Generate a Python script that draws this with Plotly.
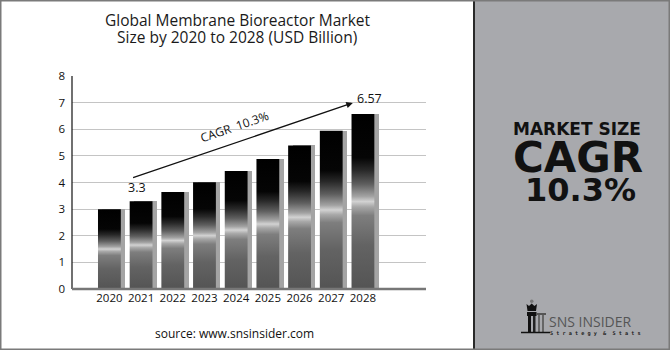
import plotly.graph_objects as go

years = ["2020", "2021", "2022", "2023", "2024", "2025", "2026", "2027", "2028"]
values = [3.0, 3.3, 3.64, 4.01, 4.43, 4.88, 5.39, 5.94, 6.57]
y_ticks = [0, 1, 2, 3, 4, 5, 6, 7, 8]
title_lines = ["Global Membrane Bioreactor Market", "Size by 2020 to 2028 (USD Billion)"]
cagr_text = "CAGR  10.3%"
source_text = "source: www.snsinsider.com"

W, H = 670, 350
def px(x):
    return x / W
def py(y):
    return 1 - y / H

BAR_W = 0.72
SHADOW_OFF = 0.14
grad = [
    [0.0, "#545454"], [0.25, "#636363"], [0.42, "#7e7e7e"], [0.47, "#a8a8a8"],
    [0.50, "#d2d2d2"], [0.53, "#a2a2a2"], [0.60, "#5e5e5e"], [0.68, "#282828"],
    [0.75, "#050505"], [1.0, "#000000"],
]

fig = go.Figure()
xs = list(range(len(years)))

# shadow bars
fig.add_trace(go.Bar(
    x=[i + SHADOW_OFF for i in xs], y=values, width=BAR_W,
    marker=dict(color="#a4a4a4", line=dict(width=0)),
    hoverinfo="skip", showlegend=False,
))

# gradient bars
for i, v in zip(xs, values):
    fig.add_trace(go.Scatter(
        x=[i - BAR_W / 2, i + BAR_W / 2, i + BAR_W / 2, i - BAR_W / 2, i - BAR_W / 2],
        y=[0, 0, v, v, 0],
        mode="lines", line=dict(width=0), fill="toself",
        fillgradient=dict(type="vertical", colorscale=grad, start=0, stop=v),
        hoverinfo="skip", showlegend=False,
    ))

ann = []
# title
for line, yy in zip(title_lines, [20, 37]):
    ann.append(dict(text=line, x=px(237), y=py(yy), xref="paper", yref="paper",
                    showarrow=False, xanchor="center", yanchor="middle",
                    font=dict(family="Open Sans", size=15.5, color="#1a1a1a")))
# data labels
ann.append(dict(text=f"{values[1]}", x=1, y=values[1], xref="x", yref="y", showarrow=False,
                xshift=-4, yshift=14, font=dict(family="Open Sans", size=12.5, color="#111")))
ann.append(dict(text=f"{values[-1]}", x=8, y=values[-1], xref="x", yref="y", showarrow=False,
                xshift=7, yshift=16, font=dict(family="Open Sans", size=12.5, color="#111")))
# arrow
ann.append(dict(x=7.68, y=6.99, ax=0.70, ay=4.16, xref="x", yref="y", axref="x", ayref="y",
                text="", showarrow=True, arrowhead=2, arrowsize=1, arrowwidth=1.3, arrowcolor="#111"))
ann.append(dict(text=cagr_text, x=3.96, y=6.09, xref="x", yref="y", showarrow=False, textangle=-19,
                font=dict(family="Open Sans", size=12, color="#111")))
# source
ann.append(dict(text=source_text, x=px(234), y=py(333), xref="paper", yref="paper", showarrow=False,
                xanchor="center", yanchor="middle", font=dict(family="Open Sans", size=12, color="#111")))
# right panel text
ann.append(dict(text="<b>MARKET SIZE</b>", x=px(577), y=py(129), xref="paper", yref="paper", showarrow=False,
                xanchor="center", yanchor="middle", font=dict(family="DejaVu Sans", size=17, color="#111")))
ann.append(dict(text="<b>CAGR</b>", x=px(578), y=py(157), xref="paper", yref="paper", showarrow=False,
                xanchor="center", yanchor="middle", font=dict(family="DejaVu Sans", size=42, color="#111")))
ann.append(dict(text="<b>10.3%</b>", x=px(580), y=py(190), xref="paper", yref="paper", showarrow=False,
                xanchor="center", yanchor="middle", font=dict(family="DejaVu Sans", size=32, color="#111")))
# logo text
ann.append(dict(text="SNS INSIDER", x=px(547), y=py(321), xref="paper", yref="paper", showarrow=False,
                xanchor="left", yanchor="middle", font=dict(family="Open Sans", size=14, color="#555")))
ann.append(dict(text="<b>S t r a t e g y  &  S t a t s</b>", x=px(548), y=py(333), xref="paper", yref="paper",
                showarrow=False, xanchor="left", yanchor="middle",
                font=dict(family="DejaVu Sans Mono", size=5.2, color="#222")))

shapes = []
# right grey panel
shapes.append(dict(type="rect", xref="paper", yref="paper", x0=px(474), x1=1, y0=0, y1=1,
                   fillcolor="#a8a9ad", line=dict(width=0), layer="below"))
shapes.append(dict(type="line", xref="paper", yref="paper", x0=px(474), x1=px(474), y0=0, y1=1,
                   line=dict(color="#2a2a2a", width=2)))
# outer border
shapes.append(dict(type="rect", xref="paper", yref="paper", x0=0, x1=1, y0=0, y1=1,
                   fillcolor="rgba(0,0,0,0)", line=dict(color="#7a7a7a", width=3)))
# logo icon (rook)
shapes.append(dict(type="circle", xref="paper", yref="paper", x0=px(530), x1=px(533.5), y0=py(303), y1=py(299.5),
                   fillcolor="#777", line=dict(width=0)))
shapes.append(dict(type="path", xref="paper", yref="paper",
                   path=f"M {px(526.5)},{py(304)} L {px(529)},{py(306)} L {px(531.7)},{py(303.5)} L {px(534.4)},{py(306)} L {px(537)},{py(304)} L {px(536)},{py(311)} L {px(527.5)},{py(311)} Z",
                   fillcolor="#111", line=dict(width=0)))
shapes.append(dict(type="rect", xref="paper", yref="paper", x0=px(527), x1=px(536.5), y0=py(316), y1=py(312),
                   fillcolor="#111", line=dict(width=0)))
shapes.append(dict(type="rect", xref="paper", yref="paper", x0=px(528), x1=px(531), y0=py(332), y1=py(316),
                   fillcolor="#111", line=dict(width=0)))
shapes.append(dict(type="rect", xref="paper", yref="paper", x0=px(533), x1=px(535.5), y0=py(332), y1=py(316),
                   fillcolor="#222", line=dict(width=0)))
shapes.append(dict(type="rect", xref="paper", yref="paper", x0=px(538), x1=px(540), y0=py(332), y1=py(314),
                   fillcolor="#666", line=dict(width=0)))
shapes.append(dict(type="rect", xref="paper", yref="paper", x0=px(542), x1=px(544), y0=py(332), y1=py(314),
                   fillcolor="#666", line=dict(width=0)))
shapes.append(dict(type="rect", xref="paper", yref="paper", x0=px(536), x1=px(546), y0=py(315), y1=py(313),
                   fillcolor="#555", line=dict(width=0)))
shapes.append(dict(type="line", xref="paper", yref="paper", x0=px(521), x1=px(550), y0=py(332.5), y1=py(332.5),
                   line=dict(color="#111", width=1.5)))

fig.update_layout(
    width=W, height=H, margin=dict(l=0, r=0, t=0, b=0, autoexpand=False),
    paper_bgcolor="white", plot_bgcolor="rgba(0,0,0,0)",
    showlegend=False, bargap=0,
    annotations=ann, shapes=shapes,
    xaxis=dict(domain=[px(72), px(426)], range=[-1.18, 9.99], tickmode="array",
               tickvals=xs, ticktext=years, showgrid=False, zeroline=False, automargin=False,
               showline=False, ticks="", tickfont=dict(family="Open Sans", size=11.5, color="#111"),
               fixedrange=True),
    yaxis=dict(domain=[py(289), py(76)], range=[0, 8], tickmode="array", tickvals=y_ticks,
               showgrid=True, gridcolor="#c4c4c4", gridwidth=1, zeroline=False, automargin=False,
               showline=False, ticks="", ticklabelstandoff=6,
               tickfont=dict(family="Open Sans", size=11.5, color="#111"), fixedrange=True),
)
# axis lines as shapes tied to axis domain
fig.add_shape(type="line", xref="x domain", yref="y domain", x0=0, x1=0, y0=0, y1=1,
              line=dict(color="#111", width=1.2))
fig.add_shape(type="line", xref="x domain", yref="y domain", x0=0, x1=1, y0=0, y1=0,
              line=dict(color="#777", width=2.5))

fig.write_html("out.html")
